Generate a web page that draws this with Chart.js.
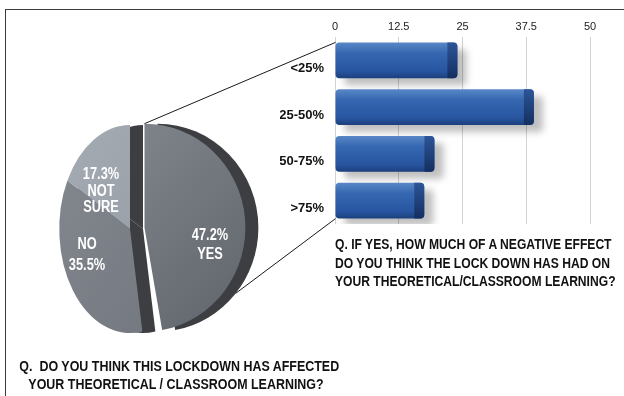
<!DOCTYPE html>
<html>
<head>
<meta charset="utf-8">
<script src="https://cdn.jsdelivr.net/npm/chart.js@4.4.1/dist/chart.umd.min.js"></script>
<style>
html,body{margin:0;padding:0;width:624px;height:396px;overflow:hidden;background:#fff;}
body{position:relative;font-family:"Liberation Sans",Arial,sans-serif;}
#frame{position:absolute;left:5px;top:9px;width:660px;height:420px;border:1.5px solid #3c3c3c;box-sizing:border-box;}
canvas{position:absolute;}
#pie{left:10px;top:109px;}
#bars{left:280px;top:0;}
#links{left:0;top:0;pointer-events:none;}
.lbl{position:absolute;color:#fff;font-size:16px;font-weight:bold;line-height:17px;text-align:center;transform:translate(-50%,-50%) scaleX(0.8);white-space:nowrap;}
.q{position:absolute;font-weight:bold;color:#111;white-space:nowrap;font-size:14px;}
#qLeft{left:0;width:352px;top:358px;line-height:17.5px;text-align:center;transform:scaleX(0.89);}
#qRight{left:335px;top:235px;line-height:18.5px;transform:scaleX(0.865);transform-origin:0 0;}
</style>
</head>
<body>
<div id="frame"></div>
<canvas id="pie" width="270" height="240"></canvas>
<canvas id="bars" width="344" height="240"></canvas>
<canvas id="links" width="624" height="396"></canvas>

<div class="lbl" style="left:210px;top:244px;line-height:19px">47.2%<br>YES</div>
<div class="lbl" style="left:87px;top:254px;line-height:21px">NO<br>35.5%</div>
<div class="lbl" style="left:101px;top:191px;line-height:16.5px">17.3%<br>NOT<br>SURE</div>

<div class="q" id="qRight">Q. IF YES, HOW MUCH OF A NEGATIVE EFFECT<br>DO YOU THINK THE LOCK DOWN HAS HAD ON<br>YOUR THEORETICAL/CLASSROOM LEARNING?</div>
<div class="q" id="qLeft">Q.&nbsp; DO YOU THINK THIS LOCKDOWN HAS AFFECTED<br>YOUR THEORETICAL / CLASSROOM LEARNING?</div>

<script>
/*========== Data ==========*/

const answerLabels=["YES","NO","NOT SURE"];
const answerValues=[47.2,35.5,17.3];

const effectLabels=["<25%","25-50%","50-75%",">75%"];
const effectValues=[24,39,19.5,17.5];
const effectTicks=[0,12.5,25,37.5,50];

/*========== Look ==========*/

const sliceShades=[["#8d9198","#5e6269"],["#868a91","#6f737b"],["#a6adb5","#8f969f"]];
const sliceSquash=[0.97,0.68,0.68];  // front slice wide, back slices foreshortened
const EXPLODE=15;   // YES slice pulled out
const WALL=13;      // depth of the dark pie side, in screen px

const $=id=>document.getElementById(id);

Chart.defaults.font.family="'Liberation Sans',Arial,sans-serif";
Chart.defaults.color="#111";

/*========== Pie ==========*/

const arcDraw=Chart.ArcElement.prototype.draw;

function squashAt(ctx,cx,k){
    ctx.translate(cx,0);
    ctx.scale(k,1);
    ctx.translate(-cx,0);
}

function pieCenterX(chart){
    return (chart.chartArea.left+chart.chartArea.right)/2;
}

const pie3d={
    id:"pie3d",
    afterDatasetsUpdate(chart){
        const cx=pieCenterX(chart);
        chart.getDatasetMeta(0).data.forEach((a,i)=>{
            if(i===0){
                const mid=(a.startAngle+a.endAngle)/2;
                a.x+=Math.cos(mid)*EXPLODE;
                a.y+=Math.sin(mid)*EXPLODE;
            }
            const k=sliceSquash[i];
            a.draw=function(ctx){
                ctx.save();
                squashAt(ctx,cx,k);
                arcDraw.call(this,ctx);
                ctx.restore();
            };
        });
    },
    beforeDatasetsDraw(chart){
        const ctx=chart.ctx;
        const cx=pieCenterX(chart);
        ctx.fillStyle="#3d3e42";
        chart.getDatasetMeta(0).data.forEach((a,i)=>{
            const k=sliceSquash[i];
            const dx=WALL/k;
            ctx.save();
            squashAt(ctx,cx,k);
            ctx.beginPath();
            ctx.moveTo(a.x+dx,a.y);
            ctx.arc(a.x+dx,a.y,a.outerRadius,a.startAngle,a.endAngle);
            ctx.closePath();
            ctx.fill();
            ctx.restore();
        });
    }
};

function sliceFill(c){
    const area=c.chart.chartArea;
    const shade=sliceShades[c.dataIndex]||sliceShades[0];
    if(!area) return shade[1];
    const g=c.chart.ctx.createLinearGradient(area.left,area.top,area.right,area.bottom);
    g.addColorStop(0,shade[0]);
    g.addColorStop(1,shade[1]);
    return g;
}

const pieChart=new Chart($("pie"),{
    type:"pie",
    data:{labels:answerLabels,datasets:[{data:answerValues,backgroundColor:sliceFill,borderWidth:0}]},
    options:{
        responsive:false,
        animation:false,
        radius:104,
        layout:{padding:{left:0,right:30,top:0,bottom:0}},
        plugins:{legend:{display:false},tooltip:{enabled:false}}
    },
    plugins:[pie3d]
});

/*========== Bars ==========*/

const BAR_SHARE=0.77;

function barFill(c){
    const {chart}=c;
    const y=chart.scales.y;
    if(!chart.chartArea||!y||c.type!=="data") return "#2f61ab";
    const yc=y.getPixelForValue(c.dataIndex);
    const half=y.height/effectLabels.length*BAR_SHARE/2;
    const g=chart.ctx.createLinearGradient(0,yc-half,0,yc+half);
    g.addColorStop(0,"#5a88c8");
    g.addColorStop(0.3,"#3567b0");
    g.addColorStop(0.8,"#2855a0");
    g.addColorStop(1,"#1b3f7c");
    return g;
}

const barDepth={
    id:"barDepth",
    beforeDatasetsDraw(chart){
        const ctx=chart.ctx;
        ctx.save();
        ctx.shadowColor="rgba(0,0,0,0.25)";
        ctx.shadowBlur=7;
        ctx.shadowOffsetX=9;
        ctx.shadowOffsetY=7;
    },
    afterDatasetsDraw(chart){
        const ctx=chart.ctx;
        ctx.restore();
        chart.getDatasetMeta(0).data.forEach(b=>{
            const top=b.y-b.height/2;
            const g=ctx.createLinearGradient(0,top,0,top+b.height);
            g.addColorStop(0,"#2d5597");
            g.addColorStop(1,"#142f60");
            ctx.fillStyle=g;
            ctx.beginPath();
            ctx.roundRect(b.x-10,top,10,b.height,[0,4,4,0]);
            ctx.fill();
        });
    }
};

const barChart=new Chart($("bars"),{
    type:"bar",
    data:{labels:effectLabels,datasets:[{data:effectValues,backgroundColor:barFill,borderRadius:4,borderSkipped:false,barPercentage:BAR_SHARE,categoryPercentage:1}]},
    options:{
        indexAxis:"y",
        responsive:false,
        animation:false,
        layout:{padding:{left:0,right:34,top:0,bottom:16}},
        plugins:{legend:{display:false},tooltip:{enabled:false}},
        scales:{
            x:{
                position:"top",
                min:0,max:50,
                afterBuildTicks:s=>{s.ticks=effectTicks.map(v=>({value:v}));},
                afterFit:s=>{s.height=37;},
                border:{display:false},
                grid:{color:"#d2d2d2",drawTicks:false},
                ticks:{padding:3,font:{size:11},color:"#222"}
            },
            y:{
                afterFit:s=>{s.width=55;},
                border:{display:false},
                grid:{display:false},
                ticks:{padding:3,labelOffset:8,font:{size:13,weight:"bold"},color:"#111"}
            }
        }
    },
    plugins:[barDepth]
});

/*========== Leader lines ==========*/

function drawLinks(){
    const ctx=$("links").getContext("2d");
    const pc=$("pie"),bc=$("bars");
    const a=pieChart.getDatasetMeta(0).data[0];
    const cx=pieCenterX(pieChart);
    const k=sliceSquash[0];
    const onYes=(ang,side)=>({
        x:pc.offsetLeft+cx+(a.x+Math.cos(ang)*a.outerRadius-cx)*k+side,
        y:pc.offsetTop+a.y+Math.sin(ang)*a.outerRadius
    });
    const bars=barChart.getDatasetMeta(0).data;
    const first=bars[0],last=bars[bars.length-1];

    const p1=onYes(a.startAngle,0);
    const p2=onYes(a.startAngle+(a.endAngle-a.startAngle)*0.76,WALL);

    ctx.strokeStyle="#1a1a1a";
    ctx.lineWidth=1;
    ctx.beginPath();
    ctx.moveTo(p1.x,p1.y);
    ctx.lineTo(bc.offsetLeft+first.base,bc.offsetTop+first.y-first.height/2);
    ctx.moveTo(p2.x,p2.y);
    ctx.lineTo(bc.offsetLeft+last.base,bc.offsetTop+last.y+last.height/2);
    ctx.stroke();
}

drawLinks();
</script>
</body>
</html>
